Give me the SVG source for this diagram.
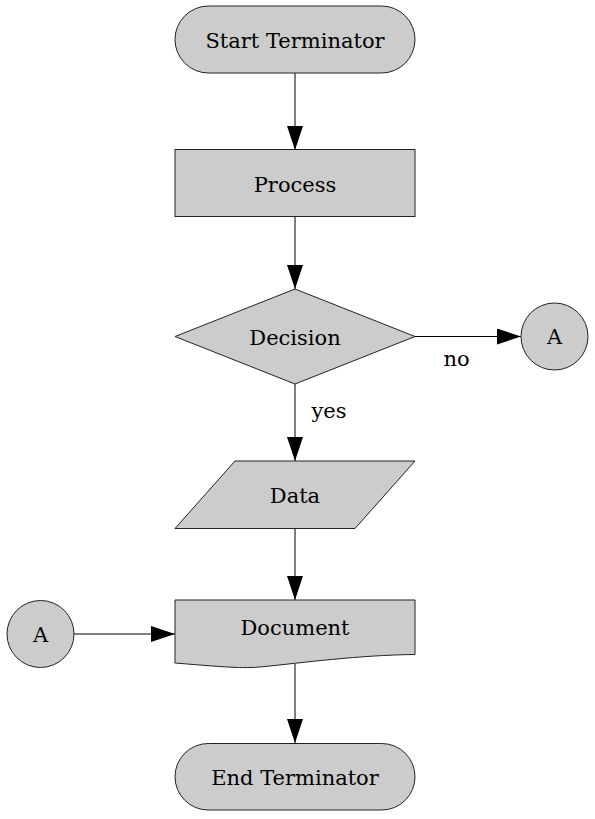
<svg xmlns="http://www.w3.org/2000/svg" width="595" height="819" viewBox="0 0 595 819">
<defs>
<style>
.n{fill:#cccccc;stroke:#222222;stroke-width:1}
.t{font-family:"DejaVu Serif","Liberation Serif",serif;font-size:21px;fill:#000;text-anchor:middle}
.e{stroke:#000;stroke-width:1;fill:none}
.l{font-family:"DejaVu Serif","Liberation Serif",serif;font-size:21px;fill:#000}
</style>
<marker id="ah" markerUnits="userSpaceOnUse" markerWidth="24" markerHeight="16" refX="24" refY="8" orient="auto">
<path d="M0,0 L24,8 L0,16 Z" fill="#000"/>
</marker>
</defs>
<rect width="595" height="819" fill="#fff"/>
<g id="connectors">
<line class="e" x1="295" y1="73" x2="295" y2="150" marker-end="url(#ah)"/>
<line class="e" x1="295" y1="217" x2="295" y2="289" marker-end="url(#ah)"/>
<line class="e" x1="415" y1="336.5" x2="521" y2="336.5" marker-end="url(#ah)"/>
<text class="l" x="443.5" y="366">no</text>
<line class="e" x1="295" y1="384" x2="295" y2="461" marker-end="url(#ah)"/>
<text class="l" x="311.5" y="418">yes</text>
<line class="e" x1="295" y1="528.5" x2="295" y2="600" marker-end="url(#ah)"/>
<line class="e" x1="74" y1="634" x2="175" y2="634" marker-end="url(#ah)"/>
<line class="e" x1="295" y1="664" x2="295" y2="743" marker-end="url(#ah)"/>
</g>
<g id="start">
<rect class="n" x="175" y="6" width="240" height="67" rx="33.5" ry="33.5"/>
<text class="t" x="295" y="47.5">Start Terminator</text>
</g>
<g id="process">
<rect class="n" x="175" y="149.5" width="240" height="67"/>
<text class="t" x="295" y="191.5">Process</text>
</g>
<g id="decision">
<polygon class="n" points="175,336.5 295,289 415,336.5 295,384"/>
<text class="t" x="295" y="345">Decision</text>
</g>
<g id="connectorA1">
<circle class="n" cx="554.5" cy="336.5" r="33.5"/>
<text class="t" x="554.5" y="344">A</text>
</g>
<g id="data">
<polygon class="n" points="235,461 415,461 355,528.5 175,528.5"/>
<text class="t" x="295" y="502.5">Data</text>
</g>
<g id="connectorA2">
<circle class="n" cx="40.5" cy="634" r="33.5"/>
<text class="t" x="40.5" y="641.5">A</text>
</g>
<g id="document">
<path class="n" d="M175,600 L415,600 L415,654.5 C360,655 300,663 265,666.5 C245,668.5 235,668 175,663 Z"/>
<text class="t" x="295" y="635">Document</text>
</g>
<g id="end">
<rect class="n" x="175" y="743.5" width="240" height="66.5" rx="33.25" ry="33.25"/>
<text class="t" x="295" y="785">End Terminator</text>
</g>
</svg>
